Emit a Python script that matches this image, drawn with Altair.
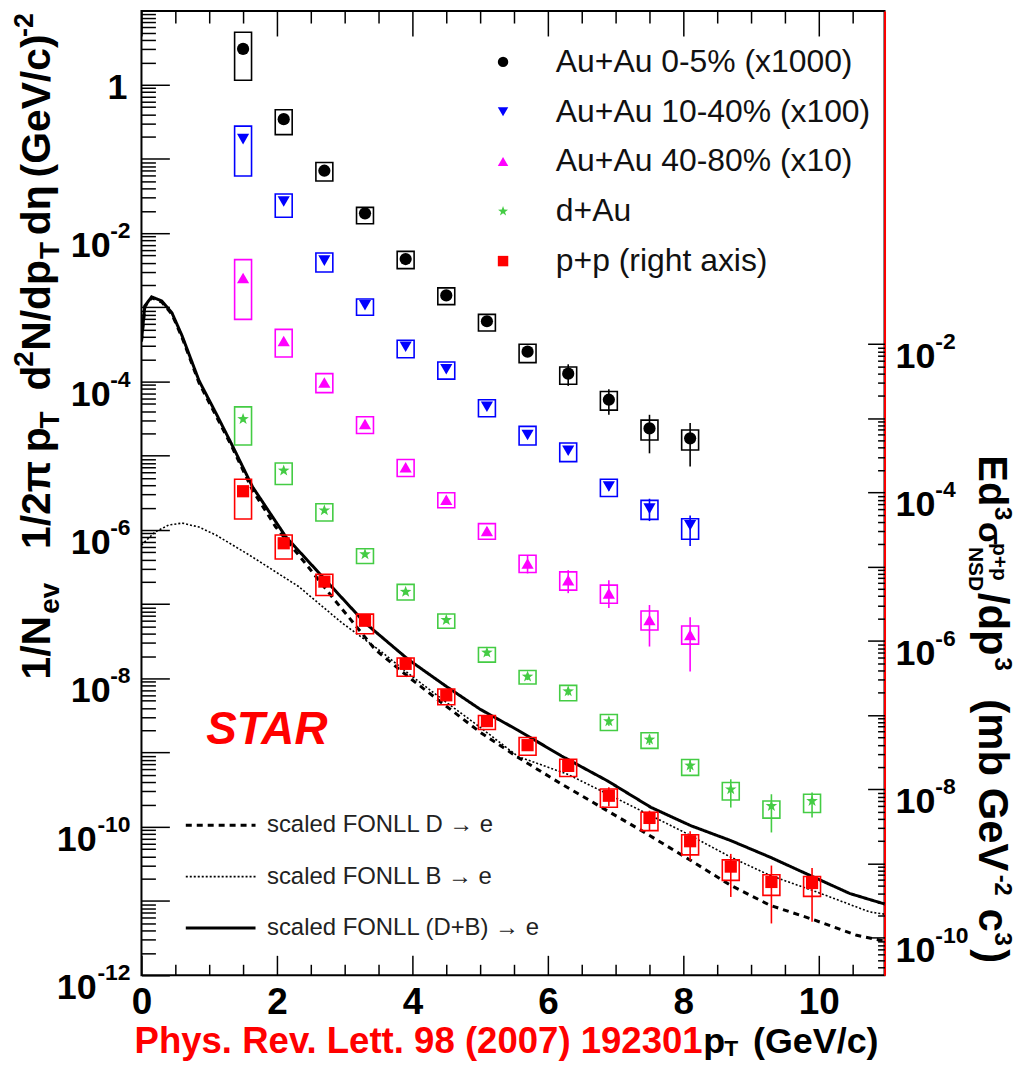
import altair as alt
import pandas as pd

# ---------------- data ----------------
PT_AU = [1.5, 2.1, 2.7, 3.3, 3.9, 4.5, 5.1, 5.7, 6.3, 6.9, 7.5, 8.1]
PT_D = [1.5, 2.1, 2.7, 3.3, 3.9, 4.5, 5.1, 5.7, 6.3, 6.9, 7.5, 8.1, 8.7, 9.3, 9.9]

AUAU05 = [3.04, 0.344, 0.0695, 0.0185, 0.00448, 0.00145, 6.5e-4, 2.53e-4, 1.28e-4, 5.7e-5, 2.34e-5, 1.72e-5]
AUAU05_SYS_LO = [1.15, 0.213, 0.0505, 0.0134, 0.00333, 0.00109, 4.8e-4, 1.8e-4, 9.2e-5, 4.13e-5, 1.63e-5, 1.20e-5]
AUAU05_SYS_HI = [5.09, 0.461, 0.0897, 0.0223, 0.00568, 0.00183, 8.04e-4, 3.18e-4, 1.57e-4, 7.35e-5, 3.03e-5, 2.23e-5]
AUAU05_ERR_LO = [2.85, 0.32, 0.064, 0.0170, 0.0041, 0.00132, 5.8e-4, 2.2e-4, 8.75e-5, 3.57e-5, 1.08e-5, 7.16e-6]
AUAU05_ERR_HI = [3.25, 0.37, 0.075, 0.0200, 0.0049, 0.00159, 7.2e-4, 2.9e-4, 1.71e-4, 7.9e-5, 3.57e-5, 2.77e-5]

AUAU1040 = [0.185, 0.0267, 0.00427, 0.00107, 2.95e-4, 1.47e-4, 4.57e-5, 1.91e-5, 1.17e-5, 3.86e-6, 1.94e-6, 1.16e-6]
AUAU1040_SYS_LO = [0.0589, 0.0164, 0.0030, 7.85e-4, 2.1e-4, 1.08e-4, 3.36e-5, 1.40e-5, 8.36e-6, 2.83e-6, 1.39e-6, 7.5e-7]
AUAU1040_SYS_HI = [0.277, 0.0338, 0.0054, 0.0013, 3.6e-4, 1.84e-4, 5.68e-5, 2.49e-5, 1.49e-5, 4.84e-6, 2.51e-6, 1.42e-6]
AUAU1040_ERR_LO = [0.172, 0.0249, 0.0040, 1.0e-3, 2.75e-4, 1.36e-4, 4.2e-5, 1.74e-5, 1.05e-5, 3.4e-6, 1.32e-6, 6.1e-7]
AUAU1040_ERR_HI = [0.199, 0.0287, 0.0046, 1.15e-3, 3.15e-4, 1.58e-4, 4.95e-5, 2.08e-5, 1.29e-5, 4.35e-6, 2.64e-6, 1.57e-6]

AUAU4080 = [2.49e-3, 3.52e-4, 9.7e-5, 2.68e-5, 7.0e-6, 2.56e-6, 9.7e-7, 3.54e-7, 2.11e-7, 1.40e-7, 6.14e-8, 3.86e-8]
AUAU4080_SYS_LO = [6.9e-4, 2.15e-4, 7.1e-5, 2.0e-5, 5.26e-6, 2.0e-6, 7.5e-7, 2.68e-7, 1.55e-7, 1.03e-7, 4.5e-8, 2.9e-8]
AUAU4080_SYS_HI = [4.4e-3, 5.05e-4, 1.28e-4, 3.36e-5, 8.9e-6, 3.18e-6, 1.22e-6, 4.57e-7, 2.73e-7, 1.81e-7, 8.1e-8, 5.1e-8]
AUAU4080_ERR_LO = [2.3e-3, 3.2e-4, 8.9e-5, 2.45e-5, 6.3e-6, 2.3e-6, 8.6e-7, 2.6e-7, 1.41e-7, 8.9e-8, 2.69e-8, 1.24e-8]
AUAU4080_ERR_HI = [2.7e-3, 3.85e-4, 1.06e-4, 2.95e-5, 7.7e-6, 2.85e-6, 1.09e-6, 4.6e-7, 2.88e-7, 2.1e-7, 9.75e-8, 6.67e-8]

DAU = [3.13e-5, 6.32e-6, 1.84e-6, 4.72e-7, 1.47e-7, 6.14e-8, 2.23e-8, 1.06e-8, 6.7e-9, 2.65e-9, 1.50e-9, 6.7e-10, 3.2e-10, 1.91e-10, 2.23e-10]
DAU_SYS_LO = [1.40e-5, 4.1e-6, 1.32e-6, 3.54e-7, 1.14e-7, 4.75e-8, 1.66e-8, 8.4e-9, 5.0e-9, 1.99e-9, 1.14e-9, 4.94e-10, 2.30e-10, 1.31e-10, 1.56e-10]
DAU_SYS_HI = [4.57e-5, 8.0e-6, 2.26e-6, 5.6e-7, 1.85e-7, 7.4e-8, 2.61e-8, 1.28e-8, 8.05e-9, 3.26e-9, 1.85e-9, 8.1e-10, 3.95e-10, 2.23e-10, 2.75e-10]
DAU_ERR_LO = [2.9e-5, 5.85e-6, 1.7e-6, 4.35e-7, 1.35e-7, 5.6e-8, 2.0e-8, 9.5e-9, 5.9e-9, 2.3e-9, 1.27e-9, 5.5e-10, 1.82e-10, 8.4e-11, 1.34e-10]
DAU_ERR_HI = [3.4e-5, 6.85e-6, 2.0e-6, 5.1e-7, 1.6e-7, 6.7e-8, 2.45e-8, 1.17e-8, 7.5e-9, 3.0e-9, 1.75e-9, 8.0e-10, 4.37e-10, 2.75e-10, 2.9e-10]

# p+p in right-axis units (mb GeV^-2 c^3)
PP = [1.04e-4, 2.07e-5, 6.3e-6, 1.87e-6, 4.91e-7, 1.85e-7, 8.3e-8, 3.94e-8, 2.07e-8, 8.2e-9, 4.12e-9, 2.0e-9, 9.1e-10, 5.65e-10, 5.47e-10]
PP_SYS_LO = [4.39e-5, 1.27e-5, 4.1e-6, 1.25e-6, 3.35e-7, 1.38e-7, 6.4e-8, 2.88e-8, 1.49e-8, 5.73e-9, 2.78e-9, 1.31e-9, 5.93e-10, 3.73e-10, 3.61e-10]
PP_SYS_HI = [1.51e-4, 2.67e-5, 7.9e-6, 2.30e-6, 5.9e-7, 2.25e-7, 9.9e-8, 4.99e-8, 2.55e-8, 1.01e-8, 4.91e-9, 2.44e-9, 1.12e-9, 7.08e-10, 6.7e-10]
PP_ERR_LO = [9.6e-5, 1.9e-5, 5.8e-6, 1.72e-6, 4.5e-7, 1.68e-7, 7.5e-8, 3.55e-8, 1.85e-8, 5.9e-9, 2.78e-9, 1.10e-9, 3.55e-10, 1.56e-10, 1.64e-10]
PP_ERR_HI = [1.12e-4, 2.25e-5, 6.85e-6, 2.03e-6, 5.35e-7, 2.03e-7, 9.2e-8, 4.4e-8, 2.33e-8, 1.07e-8, 5.16e-9, 2.73e-9, 1.35e-9, 9.4e-10, 8.7e-10]

# scaled FONLL curves, right-axis units
FONLL_DB_X = [0.0, 0.05, 0.15, 0.3, 0.45, 0.6, 0.85, 1.1, 1.34, 1.64, 2.13, 2.67, 3.30, 3.94, 4.5, 5.0, 5.56, 6.20, 6.88, 7.52, 8.11, 8.70, 9.28, 9.87, 10.46, 11.0]
FONLL_DB = [0.0111, 0.0327, 0.0432, 0.0381, 0.0263, 0.0129, 3.21e-3, 1.17e-3, 4.32e-4, 1.19e-4, 2.54e-5, 7.36e-6, 1.75e-6, 5.61e-7, 2.44e-7, 1.20e-7, 6.25e-8, 2.82e-8, 1.30e-8, 5.73e-9, 3.24e-9, 2.04e-9, 1.22e-9, 6.92e-10, 3.94e-10, 2.80e-10]
FONLL_D_X = [0.0, 0.05, 0.15, 0.3, 0.45, 0.6, 0.85, 1.1, 1.34, 1.64, 1.98, 2.42, 2.81, 3.45, 3.99, 4.5, 5.0, 5.56, 6.2, 6.79, 7.42, 8.11, 8.70, 9.28, 9.87, 10.56, 11.0]
FONLL_D = [0.0108, 0.0320, 0.0420, 0.0368, 0.0252, 0.0122, 3.0e-3, 1.08e-3, 4.05e-4, 1.07e-4, 3.45e-5, 1.11e-5, 3.97e-6, 7.64e-7, 3.02e-7, 1.32e-7, 5.89e-8, 2.69e-8, 1.18e-8, 5.73e-9, 2.65e-9, 1.10e-9, 5.08e-10, 2.74e-10, 1.82e-10, 1.08e-10, 8.9e-11]
FONLL_B_X = [0.0, 0.2, 0.4, 0.6, 0.85, 1.1, 1.59, 2.32, 2.96, 3.5, 3.99, 4.5, 5.0, 5.56, 6.29, 7.03, 8.01, 8.70, 9.28, 9.97, 10.75, 11.0]
FONLL_B = [1.96e-5, 2.93e-5, 3.64e-5, 3.87e-5, 3.42e-5, 2.67e-5, 1.44e-5, 5.41e-6, 1.75e-6, 7.64e-7, 3.35e-7, 1.49e-7, 6.86e-8, 2.77e-8, 1.60e-8, 7.41e-9, 2.65e-9, 1.22e-9, 6.92e-10, 4.14e-10, 2.23e-10, 2.06e-10]

SERIES = ["Au+Au 0-5% (x1000)", "Au+Au 10-40% (x100)", "Au+Au 40-80% (x10)", "d+Au", "p+p (right axis)"]
COLORS = ["#000000", "#0000ff", "#ff00ff", "#44cc44", "#ff0000"]
STAR_PATH = "M0,-1L0.235,-0.324L0.951,-0.309L0.38,0.124L0.588,0.809L0,0.4L-0.588,0.809L-0.38,0.124L-0.951,-0.309L-0.235,-0.324Z"
SHAPES = ["circle", "triangle-down", "triangle-up", STAR_PATH, "square"]
CURVES = ["scaled FONLL D \u2192 e", "scaled FONLL B \u2192 e", "scaled FONLL (D+B) \u2192 e"]

# axis ticks and tick labels
X_MAJOR = [0, 2, 4, 6, 8, 10]
X_MINOR = [0.5, 1, 1.5, 2.5, 3, 3.5, 4.5, 5, 5.5, 6.5, 7, 7.5, 8.5, 9, 9.5, 10.5]
L_LABEL_VALUES = [1e-2, 1e-4, 1e-6, 1e-8, 1e-10, 1e-12]
L_LABEL_EXPS = ["-2", "-4", "-6", "-8", "-10", "-12"]
R_LABEL_VALUES = [1e-2, 1e-4, 1e-6, 1e-8, 1e-10]
R_LABEL_EXPS = ["-2", "-4", "-6", "-8", "-10"]

BOX_HALF = 0.125
FONT = "Liberation Sans"
W, H = 746, 968

# ---------------- tables ----------------
def table(pts, val, slo, shi, elo, ehi, name, color):
    return pd.DataFrame({"pt": pts, "val": val, "slo": slo, "shi": shi, "elo": elo, "ehi": ehi,
                         "series": name, "col": color})

left_df = pd.concat([
    table(PT_AU, AUAU05, AUAU05_SYS_LO, AUAU05_SYS_HI, AUAU05_ERR_LO, AUAU05_ERR_HI, SERIES[0], COLORS[0]),
    table(PT_AU, AUAU1040, AUAU1040_SYS_LO, AUAU1040_SYS_HI, AUAU1040_ERR_LO, AUAU1040_ERR_HI, SERIES[1], COLORS[1]),
    table(PT_AU, AUAU4080, AUAU4080_SYS_LO, AUAU4080_SYS_HI, AUAU4080_ERR_LO, AUAU4080_ERR_HI, SERIES[2], COLORS[2]),
    table(PT_D, DAU, DAU_SYS_LO, DAU_SYS_HI, DAU_ERR_LO, DAU_ERR_HI, SERIES[3], COLORS[3]),
], ignore_index=True)
pp_df = table(PT_D, PP, PP_SYS_LO, PP_SYS_HI, PP_ERR_LO, PP_ERR_HI, SERIES[4], COLORS[4])
for d in (left_df, pp_df):
    d["x0"] = d["pt"] - BOX_HALF
    d["x1"] = d["pt"] + BOX_HALF

curve_df = pd.concat([
    pd.DataFrame({"x": FONLL_D_X, "y": FONLL_D, "curve": CURVES[0]}),
    pd.DataFrame({"x": FONLL_B_X, "y": FONLL_B, "curve": CURVES[1]}),
    pd.DataFrame({"x": FONLL_DB_X, "y": FONLL_DB, "curve": CURVES[2]}),
], ignore_index=True)

l_lab = pd.DataFrame({"v": L_LABEL_VALUES, "e": L_LABEL_EXPS})
r_lab = pd.DataFrame({"v": R_LABEL_VALUES, "e": R_LABEL_EXPS})

# ---------------- scales & axes ----------------
XS = alt.Scale(domain=[0, 10.97], nice=False, zero=False)
YL = alt.Scale(type="log", domain=[1e-12, 10 ** 0.993], nice=False)
YR = alt.Scale(type="log", domain=[10 ** -10.505, 10 ** 2.487], nice=False)

L_MAJOR = [10.0 ** k for k in range(-12, 1)]
L_MINOR = [m * 10.0 ** k for k in range(-12, 1) for m in range(2, 10)]
R_MAJOR = [10.0 ** k for k in range(-10, -1)]
R_MINOR = [m * 10.0 ** k for k in range(-11, -2) for m in range(2, 10) if m * 10.0 ** k > 10 ** -10.505]

def tick_axis(orient, values, size):
    return alt.Axis(orient=orient, values=values, offset=-size, tickSize=size, labels=False,
                    domain=False, title=None, grid=False, tickColor="black", tickWidth=1.5)

ax_x_labels = alt.Axis(orient="bottom", values=X_MAJOR, ticks=False, domain=False, grid=False, title=None,
                       labelFontSize=37, labelPadding=9, labelFont=FONT, labelFontWeight="bold",
                       labelColor="black", format="d", labelFlush=False)
ax_r_domain = alt.Axis(orient="right", ticks=False, labels=False, domain=True, domainColor="#ff0000",
                       domainWidth=2, grid=False, title=None)

marker_legend = alt.Legend(orient="none", legendX=347, legendY=35, title=None, labelFontSize=32,
                           labelFont=FONT, labelColor="#111111", symbolSize=110, rowPadding=18,
                           labelOffset=37, labelLimit=0, padding=0)
line_legend = alt.Legend(orient="none", legendX=53, legendY=791, title=None, labelFontSize=24,
                         labelFont=FONT, labelColor="#222222", symbolType="M-1.4,0H1.4",
                         symbolSize=2500, symbolStrokeColor="black", rowPadding=13,
                         labelOffset=20, labelLimit=0, padding=0)

color_enc = alt.Color("series:N", scale=alt.Scale(domain=SERIES, range=COLORS), legend=marker_legend)
shape_enc = alt.Shape("series:N", scale=alt.Scale(domain=SERIES, range=SHAPES), legend=marker_legend)

# ---------------- data layers ----------------
lines = alt.Chart(curve_df).mark_line(color="black", clip=True).encode(
    x=alt.X("x:Q", scale=XS, axis=ax_x_labels),
    y=alt.Y("y:Q", scale=YR, axis=None),
    strokeDash=alt.StrokeDash("curve:N", scale=alt.Scale(type="ordinal", domain=CURVES,
                                                         range=[[6, 5], [2, 2], [1, 0]]),
                              legend=line_legend),
    strokeWidth=alt.StrokeWidth("curve:N", scale=alt.Scale(type="ordinal", domain=CURVES,
                                                           range=[3, 1.6, 3]),
                                legend=line_legend),
    detail="curve:N",
)

box_l = alt.Chart(left_df).mark_rect(filled=False, strokeWidth=1.6).encode(
    x=alt.X("x0:Q", scale=XS, axis=tick_axis("bottom", X_MAJOR, 20)), x2="x1:Q",
    y=alt.Y("slo:Q", scale=YL, axis=None), y2="shi:Q",
    stroke=alt.Stroke("col:N", scale=None, legend=None),
)
err_l = alt.Chart(left_df).mark_rule(strokeWidth=1.6).encode(
    x=alt.X("pt:Q", scale=XS, axis=tick_axis("bottom", X_MINOR, 11)),
    y=alt.Y("elo:Q", scale=YL, axis=tick_axis("left", L_MAJOR, 28)), y2="ehi:Q",
    stroke=alt.Stroke("col:N", scale=None, legend=None),
)
pts_l = alt.Chart(left_df).mark_point(filled=True, size=150, opacity=1).encode(
    x=alt.X("pt:Q", scale=XS, axis=tick_axis("top", X_MAJOR, 25)),
    y=alt.Y("val:Q", scale=YL, axis=tick_axis("left", L_MINOR, 14)),
    color=color_enc, shape=shape_enc,
)
box_r = alt.Chart(pp_df).mark_rect(filled=False, strokeWidth=1.6).encode(
    x=alt.X("x0:Q", scale=XS, axis=tick_axis("top", X_MINOR, 12)), x2="x1:Q",
    y=alt.Y("slo:Q", scale=YR, axis=ax_r_domain), y2="shi:Q",
    stroke=alt.Stroke("col:N", scale=None, legend=None),
)
err_r = alt.Chart(pp_df).mark_rule(strokeWidth=1.6).encode(
    x=alt.X("pt:Q", scale=XS, axis=None),
    y=alt.Y("elo:Q", scale=YR, axis=tick_axis("right", R_MAJOR, 17)), y2="ehi:Q",
    stroke=alt.Stroke("col:N", scale=None, legend=None),
)
pts_r = alt.Chart(pp_df).mark_point(filled=True, size=150, opacity=1).encode(
    x=alt.X("pt:Q", scale=XS, axis=None),
    y=alt.Y("val:Q", scale=YR, axis=tick_axis("right", R_MINOR, 7)),
    color=color_enc, shape=shape_enc,
)

# ---------------- tick labels 10^n (placed through the y scales) ----------------
def tick_text(df, scale, field, px, align, size, dy, const=None):
    base = alt.Chart(df).mark_text(align=align, baseline="alphabetic", fontSize=size, font=FONT,
                                   fontWeight="bold", color="black", dy=dy)
    enc = dict(y=alt.Y("v:Q", scale=scale, axis=None), x=alt.value(px))
    if const is not None:
        enc["text"] = alt.value(const)
    else:
        enc["text"] = alt.Text(field + ":N")
    return base.encode(**enc)

l_short = l_lab[l_lab["e"].str.len() == 2]
l_long = l_lab[l_lab["e"].str.len() == 3]
tick_labels = [
    tick_text(l_short, YL, "e", -31, "right", 36, 24, const="10"),
    tick_text(l_long, YL, "e", -45, "right", 36, 24, const="10"),
    tick_text(l_lab, YL, "e", -11, "right", 23, 5),
    tick_text(pd.DataFrame({"v": [1.0]}), YL, "e", -14, "right", 36, 14, const="1"),
    tick_text(r_lab, YR, "e", W + 11, "left", 36, 24, const="10"),
    tick_text(r_lab, YR, "e", W + 51, "left", 23, 5),
]

# ---------------- text annotations ----------------
OX, OY = 142, 9  # page position of the plot origin

def txt(s, px, py, size, color="black", angle=0, align="left", baseline="alphabetic",
        weight="bold", style="normal"):
    return alt.Chart(pd.DataFrame({"t": [s]})).mark_text(
        align=align, baseline=baseline, angle=angle, fontSize=size, font=FONT,
        fontWeight=weight, fontStyle=style, color=color,
    ).encode(text="t:N", x=alt.value(px - OX), y=alt.value(py - OY))

texts = []
# left axis title: 1/N_ev 1/2pi p_T d2N/dp_T deta (GeV/c)^-2   (reads bottom to top)
LB, LSUB, LSUP = 50, 59, 33
for s, py, size, bx in [
    ("1/N", 680, 41, LB), ("ev", 614, 28, LSUB), ("1/2", 549, 41, LB), ("\u03c0", 492, 41, LB),
    ("p", 452, 41, LB), ("T", 428, 28, LSUB), ("d", 390, 41, LB), ("2", 366, 28, LSUP),
    ("N/dp", 350, 41, LB), ("T", 258, 28, LSUB), ("d\u03b7", 234, 41, LB),
    ("(GeV/c)", 176, 41, LB), ("-2", 35, 27, LSUP),
]:
    texts.append(txt(s, bx, py, size, angle=270))
# right axis title: Ed3 sigma^{p+p}_{NSD}/dp3 (mb GeV^-2 c^3)   (reads top to bottom)
RB, RSUP, RSUB = 983, 999, 973
for s, py, size, bx in [
    ("Ed", 455, 40, RB), ("3", 507, 24, RSUP), ("\u03c3", 522, 34, RB), ("p+p", 543, 21, RSUP - 2),
    ("NSD", 547, 21, RSUB), ("/dp", 593, 42, RB), ("3", 658, 24, RSUP), ("(mb GeV", 700, 42, RB),
    ("-2", 876, 24, RSUP), ("c", 910, 42, RB), ("3", 934, 24, RSUP), (")", 951, 42, RB),
]:
    texts.append(txt(s, bx, py, size, angle=90))
# x title + reference
texts.append(txt("Phys. Rev. Lett. 98 (2007) 192301", 135, 1055, 36.7, color="#ff0000"))
texts.append(txt("p", 706, 1055, 36))
texts.append(txt("T", 727, 1058, 23))
texts.append(txt("(GeV/c)", 756, 1055, 36))
texts.append(txt("STAR", 207, 745, 46, color="#ff0000", style="italic"))

chart = alt.layer(lines, box_l, err_l, pts_l, box_r, err_r, pts_r, *tick_labels, *texts).resolve_scale(
    y="independent"
).resolve_axis(
    x="independent", y="independent"
).properties(
    width=W, height=H,
    autosize=alt.AutoSizeParams(type="none"),
    padding={"left": 134, "top": 1, "right": 135, "bottom": 87},
).configure_view(
    stroke="black", strokeWidth=2
).configure_axis(
    grid=False
)

chart.save("out.html", embed_options={"renderer": "svg", "actions": False})
